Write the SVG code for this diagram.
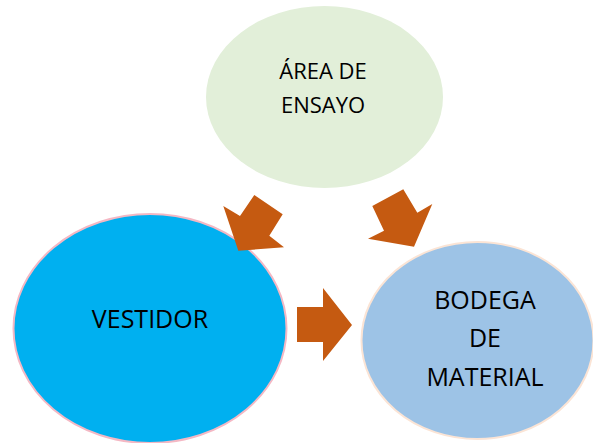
<svg xmlns="http://www.w3.org/2000/svg" width="593" height="443" viewBox="0 0 593 443">
<style>
.lbl{font-family:"Open Sans","Liberation Sans",sans-serif;fill:#000;text-anchor:middle}
.arr{fill:#C55A11}
</style>
<rect width="593" height="443" fill="#fff"/>
<g id="area-ensayo">
<ellipse cx="324.5" cy="97" rx="118.5" ry="91" fill="#E2EFD9"/>
<text class="lbl" x="323" y="79" font-size="22">ÁREA DE</text>
<text class="lbl" x="323" y="113" font-size="22">ENSAYO</text>
</g>
<g id="vestidor">
<ellipse cx="150" cy="328.5" rx="136.5" ry="114.5" fill="#00B0F0" stroke="#F4B8C4" stroke-width="2"/>
<text class="lbl" x="150" y="328" font-size="25">VESTIDOR</text>
</g>
<g id="bodega">
<ellipse cx="477.5" cy="340.5" rx="116" ry="98.5" fill="#9DC3E6" stroke="#FBE4D5" stroke-width="2"/>
<text class="lbl" x="485" y="309" font-size="25">BODEGA</text>
<text class="lbl" x="485" y="347" font-size="25">DE</text>
<text class="lbl" x="485" y="386" font-size="25">MATERIAL</text>
</g>
<g id="connectors">
<polygon class="arr" points="223.3,206 240,216 254.3,195 282.7,214.3 269.3,235.7 284,247.3 238.3,250.7"/>
<polygon class="arr" points="372.3,206 403.3,189.3 417.3,212.7 432.3,204 414,246.7 368,238.7 384,230.7"/>
<polygon class="arr" points="297,307 323,307 323,288 352,325 323,361 323,342 297,342"/>
</g>
</svg>
